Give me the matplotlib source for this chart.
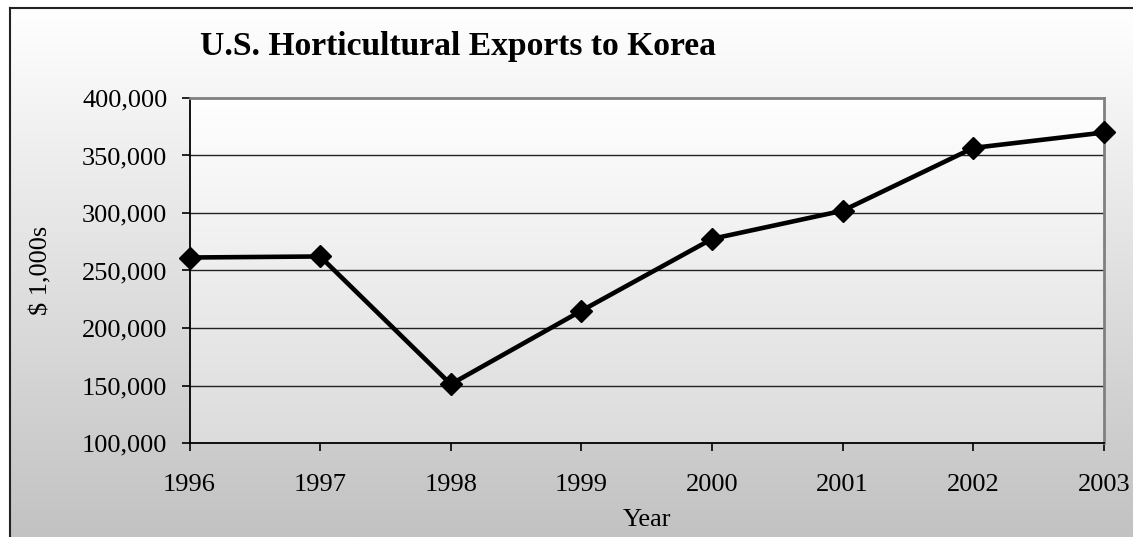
import numpy as np
import matplotlib.pyplot as plt
from matplotlib.lines import Line2D
from matplotlib.colors import LinearSegmentedColormap
from matplotlib.ticker import FuncFormatter

# 輸出額 (千ドル)
years = [1996, 1997, 1998, 1999, 2000, 2001, 2002, 2003]
exports = [261300, 262200, 151100, 215000, 277500, 302000, 356600, 370000]
y_ticks = [100000, 150000, 200000, 250000, 300000, 350000, 400000]

plt.rcParams['font.family'] = ['Liberation Serif', 'DejaVu Serif']

W, H = 1133, 537
fig = plt.figure(figsize=(W / 100, H / 100), dpi=100)
fig.patch.set_facecolor('white')

# 背景のグラデーション (上が白、下が灰色)
bg = fig.add_axes([10 / W, 0, 1 - 10 / W, 1 - 8 / H], zorder=-10)
grad = np.linspace(0, 1, 256).reshape(-1, 1)
bg.imshow(grad, cmap=LinearSegmentedColormap.from_list('bg', ['#ffffff', '#c2c2c2']),
          aspect='auto', extent=[0, 1, 0, 1], origin='upper')
bg.set_axis_off()

# 外枠
fig.add_artist(Line2D([10 / W, 10 / W], [0, 1 - 8 / H], color='#222222', lw=1.5,
                      transform=fig.transFigure))
fig.add_artist(Line2D([10 / W, 1], [1 - 8 / H, 1 - 8 / H], color='#222222', lw=1.5,
                      transform=fig.transFigure))

left, right, top, bottom = 189.5, 1104, 98, 443
ax = fig.add_axes([left / W, 1 - bottom / H, (right - left) / W, (bottom - top) / H])

# プロットエリアのグラデーション
ax.imshow(grad, cmap=LinearSegmentedColormap.from_list('pa', ['#ffffff', '#dcdcdc']),
          aspect='auto', extent=[0, 1, 0, 1], origin='upper',
          transform=ax.transAxes, zorder=0)

ax.plot(years, exports, color='black', lw=3.3, marker='D', markersize=11,
        clip_on=False, zorder=5)

ax.set_xlim(1996, 2003)
ax.set_ylim(100000, 400000)
ax.set_xticks(years)
ax.set_yticks(y_ticks)
ax.yaxis.set_major_formatter(FuncFormatter(lambda v, p: f'{int(v):,}'))
for v in y_ticks[1:-1]:
    ax.axhline(v, color='#222222', lw=1.0, zorder=1)

ax.tick_params(axis='both', direction='out', length=6, width=1.2, labelsize=19,
               colors='black')
ax.tick_params(axis='y', pad=10)
ax.tick_params(axis='x', pad=16)

for s in ['left', 'bottom']:
    ax.spines[s].set_color('black')
    ax.spines[s].set_linewidth(1.3)
for s in ['top', 'right']:
    ax.spines[s].set_color('#808080')
    ax.spines[s].set_linewidth(2)

ax.set_xlabel('Year', fontsize=19, labelpad=10)
ax.set_ylabel('$ 1,000s', fontsize=19, labelpad=21)

fig.text(200 / W, 1 - 47 / H, 'U.S. Horticultural Exports to Korea',
         fontsize=24.2, fontweight='bold', ha='left', va='center')

fig.savefig('out.png', dpi=100)
